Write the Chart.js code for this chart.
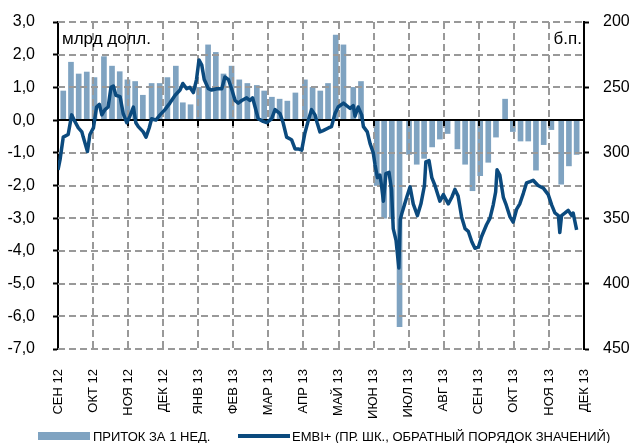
<!DOCTYPE html>
<html lang="ru">
<head>
    <meta charset="UTF-8">
    <title>Приток в фонды и EMBI+</title>
    <script src="https://cdn.jsdelivr.net/npm/chart.js"></script>
    <style>
        body { margin: 0; background: #fff; }
        #wrap { width: 635px; height: 443px; }
    </style>
</head>
<body>
    <div id="wrap"><canvas id="flowChart"></canvas></div>

    <script>
        const monthLabels = ['СЕН 12', 'ОКТ 12', 'НОЯ 12', 'ДЕК 12', 'ЯНВ 13', 'ФЕВ 13', 'МАР 13', 'АПР 13',
            'МАЙ 13', 'ИЮН 13', 'ИЮЛ 13', 'АВГ 13', 'СЕН 13', 'ОКТ 13', 'НОЯ 13', 'ДЕК 13'];
        const flowTicks = [3, 2, 1, 0, -1, -2, -3, -4, -5, -6, -7];

        // время в месяцах от начала сентября 2012
        const weekT = [0.15, 0.37, 0.59, 0.82, 1.04, 1.31, 1.54, 1.76, 1.98, 2.20,
            2.42, 2.67, 2.90, 3.12, 3.36, 3.56, 3.78, 4.02, 4.28, 4.50,
            4.72, 4.95, 5.17, 5.40, 5.67, 5.88, 6.10, 6.32, 6.54, 6.77,
            7.04, 7.26, 7.48, 7.70, 7.92, 8.14, 8.42, 8.64, 9.09, 9.30,
            9.52, 9.74, 10.01, 10.23, 10.44, 10.67, 10.89, 11.11, 11.39, 11.61,
            11.82, 12.04, 12.27, 12.49, 12.75, 12.97, 13.19, 13.41, 13.63, 13.85,
            14.07, 14.35, 14.57, 14.79];
        // приток за неделю, млрд долл.
        const weekFlow = [0.89, 1.77, 1.41, 1.47, 1.30, 1.94, 1.65, 1.48, 1.23, 1.18,
            0.76, 1.12, 1.12, 1.30, 1.65, 0.53, 0.47, 1.00, 2.30, 2.07,
            1.41, 1.65, 1.23, 1.12, 1.06, 0.89, 0.70, 0.64, 0.58, 0.83,
            1.23, 1.00, 0.89, 1.12, 2.60, 2.30, 1.00, 1.18, -2.00, -3.00,
            -3.00, -6.32, -1.05, -1.35, -1.17, -0.82, -0.58, -0.41, -0.88, -1.35,
            -2.16, -1.70, -1.29, -0.52, 0.64, -0.35, -0.64, -0.64, -1.53, -0.75,
            -0.29, -1.96, -1.40, -1.05];

        // EMBI+, б.п.
        const embiT = [0.00, 0.06, 0.15, 0.29, 0.39, 0.48, 0.58, 0.68, 0.72, 0.84,
            0.91, 1.01, 1.10, 1.18, 1.25, 1.34, 1.43, 1.51, 1.58, 1.65,
            1.77, 1.86, 1.96, 2.05, 2.15, 2.22, 2.29, 2.43, 2.51, 2.60,
            2.67, 2.79, 2.91, 3.05, 3.19, 3.34, 3.48, 3.56, 3.67, 3.76,
            3.86, 3.95, 4.02, 4.10, 4.17, 4.29, 4.38, 4.53, 4.67, 4.76,
            4.86, 4.95, 5.05, 5.14, 5.24, 5.38, 5.47, 5.55, 5.62, 5.71,
            5.85, 5.95, 6.09, 6.19, 6.33, 6.42, 6.52, 6.66, 6.76, 6.85,
            6.95, 7.04, 7.14, 7.23, 7.33, 7.39, 7.47, 7.56, 7.71, 7.80,
            7.90, 7.99, 8.14, 8.23, 8.33, 8.42, 8.47, 8.56, 8.66, 8.71,
            8.82, 8.90, 8.99, 9.04, 9.11, 9.18, 9.23, 9.28, 9.35, 9.44,
            9.51, 9.56, 9.64, 9.72, 9.76, 9.82, 9.92, 10.04, 10.13, 10.25,
            10.35, 10.45, 10.49, 10.58, 10.66, 10.75, 10.89, 10.99, 11.13, 11.23,
            11.32, 11.41, 11.51, 11.61, 11.70, 11.80, 11.89, 11.99, 12.08, 12.22,
            12.32, 12.41, 12.48, 12.52, 12.60, 12.70, 12.77, 12.89, 12.98, 13.08,
            13.17, 13.27, 13.36, 13.46, 13.55, 13.69, 13.84, 13.98, 14.08, 14.17,
            14.27, 14.31, 14.36, 14.46, 14.55, 14.65, 14.69, 14.79];
        const embiVal = [313, 305, 288, 286, 271, 276, 281, 284, 288, 299,
            286, 281, 265, 263, 271, 267, 265, 250, 249, 256,
            257, 270, 277, 272, 265, 277, 280, 284, 288, 281,
            274, 275, 271, 267, 262, 256, 252, 247, 251, 250,
            254, 244, 229, 233, 244, 251, 252, 251, 251, 242,
            244, 251, 260, 262, 260, 258, 260, 258, 265, 274,
            276, 277, 274, 267, 270, 277, 288, 290, 297, 297,
            298, 285, 275, 267, 271, 277, 284, 283, 281, 280,
            270, 265, 262, 264, 266, 264, 272, 265, 271, 280,
            284, 293, 300, 309, 319, 317, 326, 337, 316, 315,
            328, 358, 367, 388, 351, 345, 336, 326, 339, 348,
            339, 325, 307, 306, 319, 325, 337, 332, 339, 334,
            328, 333, 349, 358, 360, 368, 373, 372, 364, 355,
            350, 340, 330, 313, 317, 334, 339, 349, 353, 343,
            339, 331, 323, 322, 321, 325, 327, 332, 340, 346,
            348, 361, 348, 346, 344, 348, 346, 359];

        const barColor = '#7FA3C1';
        const lineColor = '#0B4A7E';
        const gridColor = '#999999';
        const narrow = '"Liberation Sans Narrow", "Liberation Sans", sans-serif';

        Chart.defaults.font.family = '"Liberation Sans", Arial, sans-serif';
        Chart.defaults.color = '#000';

        function noPad(s) {
            s.paddingTop = 0; s.paddingBottom = 0; s.paddingLeft = 0; s.paddingRight = 0;
        }

        // пунктир из отдельных штрихов
        function dashH(ctx, x1, x2, py) {
            for (let px = x1; px < x2; px += 11) ctx.fillRect(px, py - 1, Math.min(7, x2 - px), 2);
        }
        function dashV(ctx, px, y1, y2) {
            for (let py = y1; py < y2; py += 11) ctx.fillRect(px - 1, py, 2, Math.min(7, y2 - py));
        }

        const extras = {
            id: 'extras',
            // после столбцов, до линии EMBI+: сетка и нулевая линия
            afterDatasetDraw(chart, args) {
                if (args.meta.type !== 'bar') return;
                const { ctx, chartArea: a, scales: { x, y } } = chart;
                ctx.save();
                ctx.fillStyle = gridColor;
                for (const v of flowTicks) {
                    if (v === 0) continue;
                    dashH(ctx, a.left, a.right, Math.round(y.getPixelForValue(v)));
                }
                for (let m = 1; m < monthLabels.length - 1; m++) {
                    dashV(ctx, Math.round(x.getPixelForValue(m)), a.top, a.bottom);
                }
                const y0 = Math.round(y.getPixelForValue(0));
                ctx.fillStyle = '#000';
                ctx.fillRect(a.left, y0 - 1, a.right - a.left, 2);
                for (let m = 1; m < monthLabels.length - 1; m++) {
                    const px = Math.round(x.getPixelForValue(m));
                    ctx.fillRect(px - 1, y0, 2, 6);
                }
                ctx.restore();
            },
            afterDraw(chart) {
                const { ctx, chartArea } = chart;
                const ds = chart.data.datasets;
                ctx.save();
                ctx.fillStyle = '#000';
                ctx.textBaseline = 'middle';
                ctx.font = '17px "Liberation Sans", sans-serif';
                ctx.textAlign = 'left';
                ctx.fillText('млрд долл.', chartArea.left + 4, 39);
                ctx.textAlign = 'right';
                ctx.fillText('б.п.', chartArea.right - 2, 39);

                // легенда
                ctx.font = '13px ' + narrow;
                ctx.textAlign = 'left';
                ctx.fillStyle = ds[0].backgroundColor;
                ctx.fillRect(38, 432, 52, 8);
                ctx.fillStyle = '#000';
                ctx.fillText(ds[0].label, 93, 437);
                ctx.fillStyle = ds[1].borderColor;
                ctx.fillRect(238, 434, 52, 4);
                ctx.fillStyle = '#000';
                ctx.fillText(ds[1].label, 292, 437);
                ctx.restore();
            }
        };

        new Chart(document.getElementById('flowChart'), {
            data: {
                datasets: [
                    {
                        type: 'bar',
                        label: 'ПРИТОК ЗА 1 НЕД.',
                        data: weekT.map((t, i) => ({ x: t, y: weekFlow[i] })),
                        backgroundColor: barColor,
                        borderWidth: 0,
                        barThickness: 5,
                        yAxisID: 'y',
                        order: 2
                    },
                    {
                        type: 'line',
                        label: 'EMBI+ (ПР. ШК., ОБРАТНЫЙ ПОРЯДОК ЗНАЧЕНИЙ)',
                        data: embiT.map((t, i) => ({ x: t, y: embiVal[i] })),
                        borderColor: lineColor,
                        borderWidth: 3.5,
                        borderJoinStyle: 'round',
                        pointRadius: 0,
                        tension: 0,
                        yAxisID: 'y2',
                        order: 1
                    }
                ]
            },
            options: {
                responsive: true,
                maintainAspectRatio: false,
                animation: false,
                layout: { padding: { top: 22, left: 0, right: 0, bottom: 0 } },
                plugins: { legend: { display: false }, tooltip: { enabled: false } },
                scales: {
                    x: {
                        type: 'linear', min: 0, max: 15, offset: false,
                        afterFit: s => { s.height = 94; noPad(s); },
                        ticks: {
                            stepSize: 1, autoSkip: false, maxRotation: 90, minRotation: 90, padding: 12,
                            font: { size: 13, family: narrow },
                            callback: v => monthLabels[v]
                        },
                        grid: { display: false, offset: false },
                        border: { display: false }
                    },
                    y: {
                        position: 'left', min: -7, max: 3,
                        afterFit: s => { s.width = 58; noPad(s); },
                        ticks: {
                            stepSize: 1, padding: 18, font: { size: 16 },
                            callback: v => v.toFixed(1).replace('.', ',')
                        },
                        grid: { drawOnChartArea: false, tickColor: '#000', tickLength: 5, tickWidth: 2 },
                        border: { color: '#000', width: 2 }
                    },
                    y2: {
                        position: 'right', reverse: true, min: 200, max: 450,
                        afterFit: s => { s.width = 51; noPad(s); },
                        ticks: { stepSize: 50, padding: 14, font: { size: 16 } },
                        grid: { drawOnChartArea: false, tickColor: '#000', tickLength: 5, tickWidth: 2 },
                        border: { color: '#000', width: 2 }
                    }
                }
            },
            plugins: [extras]
        });
    </script>
</body>
</html>
